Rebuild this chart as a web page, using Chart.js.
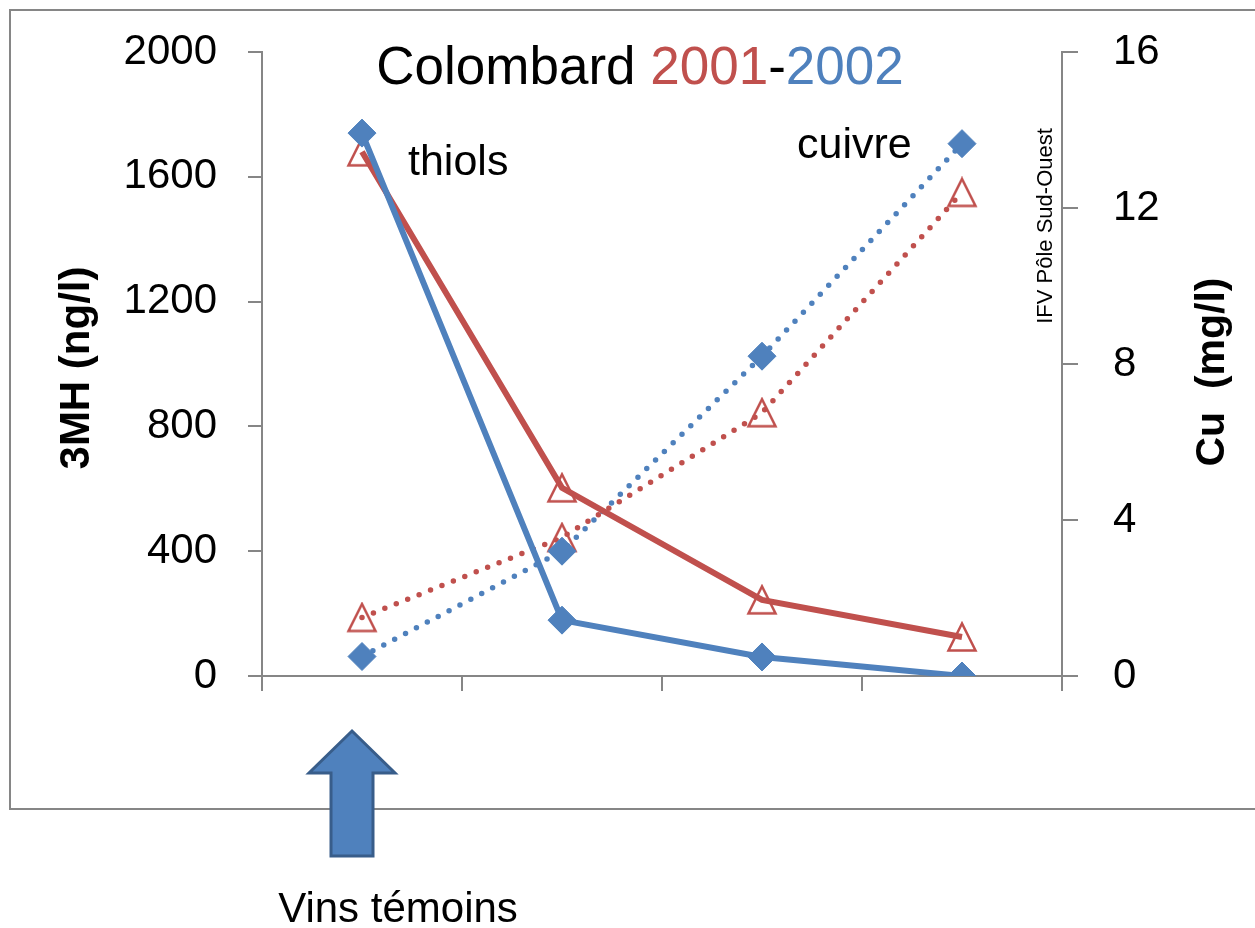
<!DOCTYPE html>
<html>
<head>
<meta charset="utf-8">
<script src="https://cdn.jsdelivr.net/npm/chart.js@4.4.1/dist/chart.umd.min.js"></script>
<style>
html,body{margin:0;padding:0;background:#fff;}
canvas{display:block;}
</style>
</head>
<body>
<canvas id="c" width="1255" height="928"></canvas>
<script>
// ---- data ----
const categories = ['1', '2', '3', '4'];
const thiols2002 = [1740, 179, 61, 0];      // 3MH ng/l, 2002 (blue, solid)
const thiols2001 = [1680, 603, 244, 125];   // 3MH ng/l, 2001 (red, solid)
const cuivre2002 = [0.5, 3.2, 8.2, 13.65];  // Cu mg/l, 2002 (blue, dotted)
const cuivre2001 = [1.5, 3.55, 6.75, 12.4]; // Cu mg/l, 2001 (red, dotted)
const leftTicks = [0, 400, 800, 1200, 1600, 2000];
const rightTicks = [0, 4, 8, 12, 16];

const BLUE = '#4F81BD', RED = '#C0504D', GRAY = '#868686';
const FONT = "'Liberation Sans', Arial, sans-serif";

// triangle marker
function triangleMarker() {
  const cv = document.createElement('canvas');
  cv.width = 32; cv.height = 32;
  const g = cv.getContext('2d');
  g.strokeStyle = RED; g.lineWidth = 2.5; g.lineJoin = 'miter';
  g.beginPath();
  g.moveTo(16, 2.5); g.lineTo(2.5, 29.5); g.lineTo(29.5, 29.5); g.closePath();
  g.stroke();
  return cv;
}
const tri = triangleMarker();

const decor = {
  id: 'decor',
  beforeDraw(chart) {
    const ctx = chart.ctx;
    ctx.save();
    ctx.strokeStyle = GRAY; ctx.lineWidth = 2;
    ctx.strokeRect(10, 10, 1300, 799);
    ctx.restore();
  },
  afterDraw(chart) {
    const ctx = chart.ctx, ca = chart.chartArea;
    const xs = chart.scales.x;
    ctx.save();
    // title
    ctx.font = "53px " + FONT;
    ctx.textBaseline = 'alphabetic';
    const parts = [['Colombard ', '#000'], ['2001', RED], ['-', '#000'], ['2002', BLUE]];
    let total = 0; parts.forEach(p => total += ctx.measureText(p[0]).width);
    let x = 640 - total / 2;
    parts.forEach(p => { ctx.fillStyle = p[1]; ctx.fillText(p[0], x, 84); x += ctx.measureText(p[0]).width; });
    // series labels
    ctx.fillStyle = '#000';
    ctx.font = "43px " + FONT;
    ctx.textAlign = 'left';
    ctx.fillText('thiols', 408, 175);
    ctx.fillText('cuivre', 797, 158);
    // axis titles (both read bottom-to-top)
    ctx.font = "bold 42px " + FONT;
    ctx.textAlign = 'center'; ctx.textBaseline = 'middle';
    ctx.save(); ctx.translate(77, 368); ctx.rotate(-Math.PI / 2); ctx.fillText('3MH (ng/l)', 0, 0); ctx.restore();
    ctx.font = "bold 41px " + FONT;
    ctx.save(); ctx.translate(1213, 372); ctx.rotate(-Math.PI / 2); ctx.fillText('Cu  (mg/l)', 0, 0); ctx.restore();
    ctx.font = "22px " + FONT;
    ctx.save(); ctx.translate(1046, 226); ctx.rotate(-Math.PI / 2); ctx.fillText('IFV Pôle Sud-Ouest', 0, 0); ctx.restore();
    // arrow
    const cx = xs.getPixelForValue(0) - 10;
    const b = ca.bottom;
    ctx.beginPath();
    ctx.moveTo(cx, b + 55);
    ctx.lineTo(cx + 43, b + 97);
    ctx.lineTo(cx + 21, b + 97);
    ctx.lineTo(cx + 21, b + 180);
    ctx.lineTo(cx - 21, b + 180);
    ctx.lineTo(cx - 21, b + 97);
    ctx.lineTo(cx - 43, b + 97);
    ctx.closePath();
    ctx.fillStyle = BLUE; ctx.fill();
    ctx.strokeStyle = '#385D8A'; ctx.lineWidth = 3; ctx.lineJoin = 'miter'; ctx.stroke();
    // arrow caption
    ctx.fillStyle = '#000';
    ctx.font = "42px " + FONT;
    ctx.textAlign = 'center'; ctx.textBaseline = 'alphabetic';
    ctx.fillText('Vins témoins', cx + 46, 922);
    ctx.restore();
  }
};

new Chart(document.getElementById('c'), {
  type: 'line',
  data: {
    labels: categories,
    datasets: [
      { label: 'thiols 2002', data: thiols2002, yAxisID: 'y', borderColor: BLUE, backgroundColor: BLUE,
        borderWidth: 6, pointStyle: 'rectRot', pointRadius: 14, pointBorderWidth: 1, pointBackgroundColor: BLUE,
        pointBorderColor: BLUE, tension: 0, order: 1 },
      { label: 'thiols 2001', data: thiols2001, yAxisID: 'y', borderColor: RED, backgroundColor: 'rgba(0,0,0,0)',
        borderWidth: 6, pointStyle: tri, pointRadius: 14, tension: 0, order: 2 },
      { label: 'cuivre 2002', data: cuivre2002, yAxisID: 'y1', borderColor: BLUE, backgroundColor: BLUE,
        borderWidth: 5.5, borderDash: [0, 12.3], borderCapStyle: 'round', pointStyle: 'rectRot', pointRadius: 14,
        pointBorderWidth: 1, pointBackgroundColor: BLUE, pointBorderColor: BLUE, tension: 0, order: 3 },
      { label: 'cuivre 2001', data: cuivre2001, yAxisID: 'y1', borderColor: RED, backgroundColor: 'rgba(0,0,0,0)',
        borderWidth: 5.5, borderDash: [0, 12.3], borderCapStyle: 'round', pointStyle: tri, pointRadius: 14,
        tension: 0, order: 4 }
    ]
  },
  options: {
    responsive: false,
    animation: false,
    events: [],
    layout: { padding: { top: 52, left: 0, right: 0, bottom: 0 } },
    plugins: { legend: { display: false }, tooltip: { enabled: false }, title: { display: false } },
    scales: {
      x: {
        offset: true,
        grid: { offset: true, drawOnChartArea: false, drawTicks: true, tickLength: 15, color: GRAY, lineWidth: 2 },
        border: { display: true, color: GRAY, width: 2 },
        ticks: { callback: () => '', font: { size: 10 } },
        afterFit(s) { s.height = 252; s.paddingLeft = 0; s.paddingRight = 0; }
      },
      y: {
        position: 'left',
        min: 0, max: 2000,
        afterBuildTicks(s) { s.ticks = leftTicks.map(v => ({ value: v })); },
        grid: { drawOnChartArea: false, drawTicks: true, tickLength: 14, color: GRAY, lineWidth: 2 },
        border: { display: true, color: GRAY, width: 2 },
        ticks: { color: '#000', font: { family: FONT, size: 42 }, padding: 31, callback: v => String(v) },
        afterFit(s) { s.width = 262; s.paddingTop = 0; s.paddingBottom = 0; }
      },
      y1: {
        position: 'right',
        min: 0, max: 16,
        afterBuildTicks(s) { s.ticks = rightTicks.map(v => ({ value: v })); },
        grid: { drawOnChartArea: false, drawTicks: true, tickLength: 16, color: GRAY, lineWidth: 2 },
        border: { display: true, color: GRAY, width: 2 },
        ticks: { color: '#000', font: { family: FONT, size: 42 }, padding: 35, callback: v => String(v) },
        afterFit(s) { s.width = 193; s.paddingTop = 0; s.paddingBottom = 0; }
      }
    }
  },
  plugins: [decor]
});
</script>
</body>
</html>
